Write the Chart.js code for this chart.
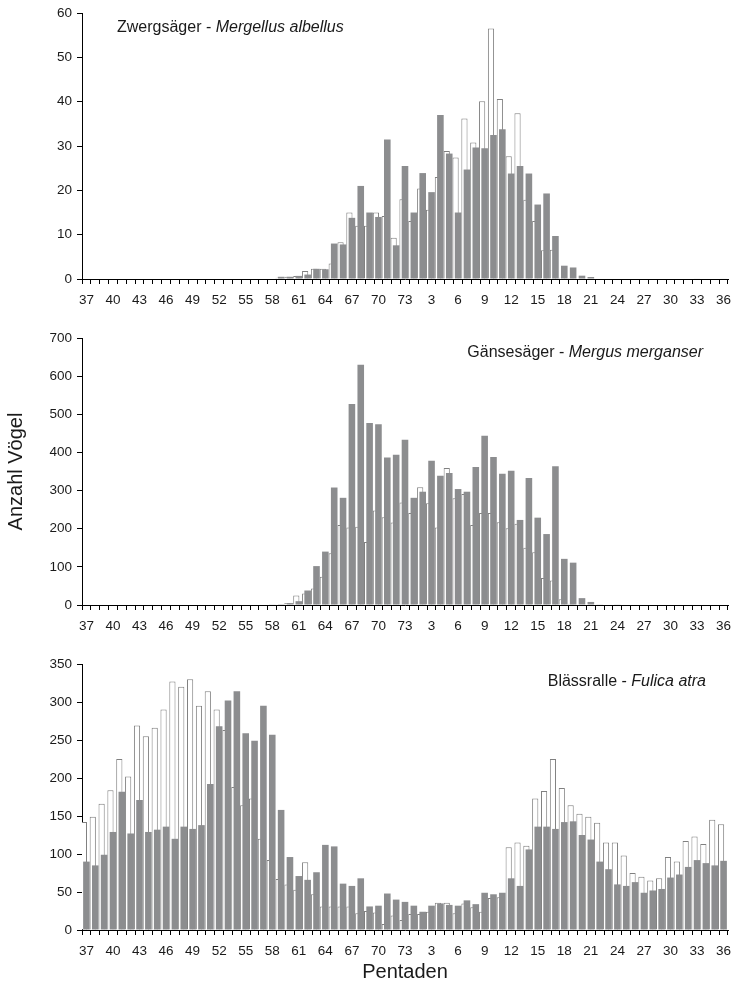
<!DOCTYPE html>
<html>
<head>
<meta charset="utf-8">
<script src="https://cdn.jsdelivr.net/npm/chart.js@4/dist/chart.umd.min.js"></script>
<style>
    body { margin: 0; background: #fff; }
    .panel { position: absolute; left: 0; }
</style>
</head>
<body>
<div class="panel" style="top:0"><canvas id="zwerg" width="731" height="310"></canvas></div>
<div class="panel" style="top:310px"><canvas id="gaense" width="731" height="326"></canvas></div>
<div class="panel" style="top:636px"><canvas id="bless" width="731" height="354"></canvas></div>
<script>
// Pentaden: 37..73, then 1..36
const PENTADEN = ['37','38','39','40','41','42','43','44','45','46','47','48','49','50','51','52','53','54','55',
    '56','57','58','59','60','61','62','63','64','65','66','67','68','69','70','71','72','73',
    '1','2','3','4','5','6','7','8','9','10','11','12','13','14','15','16','17','18','19','20',
    '21','22','23','24','25','26','27','28','29','30','31','32','33','34','35','36'];

// Zwergsäger
const zwergGray = [0,0,0,0,0,0,0,0,0,0,0,0,0,0,0,0,0,0,0,0,0,0,
    0.5,0.5,0.7,1.0,2.3,2.2,8.0,7.8,13.8,21.0,15.0,14.0,31.5,7.6,25.5,
    15.0,23.9,19.6,37.0,28.3,15.0,24.7,29.7,29.5,32.5,33.8,23.8,25.5,23.8,16.8,19.3,9.7,3.0,2.6,0.75,0.45,
    0,0,0,0,0,0,0,0,0,0,0,0.1,0,0,0.1];
const zwergWhite = [0,0,0,0,0,0,0,0,0,0,0,0,0,0,0,0,0,0,0,0,0,0,
    0.3,0.5,0.7,1.8,2.3,2.3,3.5,8.3,15.0,12.0,12.0,15.0,14.2,9.3,18.0,
    13.1,20.4,15.6,23.0,28.9,27.4,36.2,30.8,40.1,56.5,40.6,27.7,37.4,17.9,13.1,6.5,6.6,0.3,0.2,
    0,0,0,0,0,0,0,0,0,0,0,0,0,0,0,0,0];

// Gänsesäger
const gaenseGray = [0,0,0,0,0,0,0,0,0,0,0,0,0,0,0,0,0,0,0,0,0,
    1,2,5,10,38,102,140,308,281,527,630,477,474,387,394,433,
    281,297,378,339,346,304,297,362,444,388,344,352,223,333,229,186,364,121,111,18,8,1,0,1,
    0,0,0,0,0,0,0,0,0,0,0,0];
const gaenseWhite = [0,0,0,0,0,0,0,0,0,0,0,0,0,0,0,0,0,0,0,0,0,
    1,2,5,25,30,43,74,136,210,203,205,165,248,230,216,269,
    241,309,267,203,359,280,291,210,241,241,217,201,213,150,138,71,64,15,3,1,
    0,0,0,0,0,0,0,0,0,0,0,0,0,0,0,0];

// Blässralle
const blessGray = [90,85,99,129,182,127,171,129,132,136,120,136,133,138,192,268,302,314,259,249,295,257,
    158,96,71,66,76,112,110,61,58,68,31,32,48,40,37,
    32,24,32,35,33,32,39,34,49,47,49,68,58,106,136,136,133,142,143,125,119,90,80,60,58,63,49,52,54,69,73,83,92,88,85,91];
const blessWhite = [142,149,166,184,225,202,269,255,266,290,327,320,330,295,314,290,263,188,164,173,120,92,
    67,60,53,89,47,31,31,31,31,22,25,23,8,19,13,
    21,21,24,36,36,22,35,30,24,42,43,109,115,111,173,183,225,187,164,153,149,141,115,115,98,75,70,65,68,96,90,117,123,113,145,139];

const FONT = '"Liberation Sans", Arial, Helvetica, sans-serif';
const GRAY = 'rgb(140, 141, 143)';
const OUTLINE = 'rgb(128, 128, 128)';
const TEXT = '#1a1a1a';

// species name, plain part + italic part, drawn inside the plot area
const speciesLabel = {
    id: 'speciesLabel',
    afterDraw(chart, args, opts) {
        const ctx = chart.ctx;
        const area = chart.chartArea;
        ctx.save();
        ctx.fillStyle = TEXT;
        ctx.textBaseline = 'middle';
        ctx.font = '16px ' + FONT;
        const w1 = ctx.measureText(opts.name).width;
        ctx.font = 'italic 16px ' + FONT;
        const w2 = ctx.measureText(opts.latin).width;
        let x = opts.align === 'right' ? area.right - opts.dx - w1 - w2 : area.left + opts.dx;
        const y = area.top + opts.dy;
        ctx.font = '16px ' + FONT;
        ctx.fillText(opts.name, x, y);
        ctx.font = 'italic 16px ' + FONT;
        ctx.fillText(opts.latin, x + w1, y);
        ctx.restore();
    }
};

function makePanel(id, gray, white, yMax, yStep, cfg) {
    return new Chart(document.getElementById(id), {
        type: 'bar',
        data: {
            labels: PENTADEN,
            datasets: [
                // empty helper: puts stack 'a' first so the white bars sit left of the gray ones
                { data: [], stack: 'a', order: 0 },
                { data: gray, stack: 'b', order: 1, backgroundColor: GRAY, borderWidth: 0, barPercentage: 2.63 },
                { data: white, stack: 'a', order: 2, backgroundColor: '#fff', borderColor: OUTLINE, borderWidth: 1, barPercentage: 2.47 },
                { data: [], stack: 'c', order: 3 }
            ]
        },
        options: {
            responsive: false,
            animation: false,
            categoryPercentage: 0.85,
            layout: { padding: { top: cfg.padTop, right: 3, left: 0, bottom: 0 } },
            plugins: {
                legend: { display: false },
                tooltip: { enabled: false },
                speciesLabel: cfg.label
            },
            scales: {
                x: {
                    grid: { drawOnChartArea: false, tickLength: 5, color: '#000', offset: true },
                    border: { color: '#000', width: 1 },
                    ticks: {
                        autoSkip: false, maxRotation: 0, minRotation: 0, padding: 8,
                        color: TEXT, font: { family: FONT, size: 13.5 },
                        callback: (v, i) => i % 3 === 0 ? PENTADEN[i] : ''
                    },
                    title: {
                        display: !!cfg.xTitle, text: cfg.xTitle || '',
                        color: TEXT, font: { family: FONT, size: 20 }, padding: { top: 0, bottom: 6 }
                    },
                    afterFit: s => {
                        s.height = cfg.xHeight;
                        // let the axis run to the right edge like the original
                        s.paddingRight = 0;
                        s.paddingLeft = 0;
                    }
                },
                y: {
                    min: 0, max: yMax,
                    grid: { drawOnChartArea: false, tickLength: 5, color: '#000' },
                    border: { color: '#000', width: 1 },
                    ticks: { stepSize: yStep, padding: 5, color: TEXT, font: { family: FONT, size: 13.5 } },
                    title: {
                        display: !!cfg.yTitle, text: cfg.yTitle || '',
                        color: TEXT, font: { family: FONT, size: 20 }, padding: { top: 4, bottom: 0 }
                    },
                    afterFit: s => { s.width = 82; }
                }
            }
        },
        plugins: [speciesLabel]
    });
}

makePanel('zwerg', zwergGray, zwergWhite, 60, 10, {
    padTop: 13, xHeight: 31,
    label: { name: 'Zwergsäger - ', latin: 'Mergellus albellus', align: 'left', dx: 35, dy: 14 }
});
makePanel('gaense', gaenseGray, gaenseWhite, 700, 100, {
    padTop: 28, xHeight: 31, yTitle: 'Anzahl Vögel',
    label: { name: 'Gänsesäger - ', latin: 'Mergus merganser', align: 'right', dx: 25, dy: 15 }
});
makePanel('bless', blessGray, blessWhite, 350, 50, {
    padTop: 28, xHeight: 60, xTitle: 'Pentaden',
    label: { name: 'Blässralle - ', latin: 'Fulica atra', align: 'right', dx: 22, dy: 18 }
});
</script>
</body>
</html>
